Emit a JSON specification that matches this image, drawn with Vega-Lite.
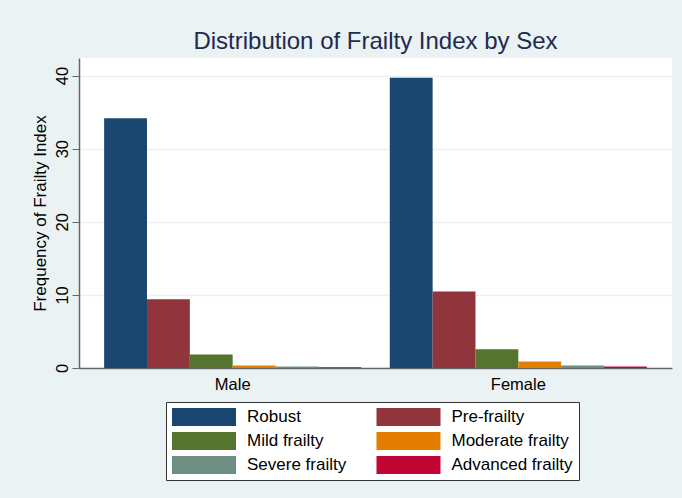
{
  "$schema": "https://vega.github.io/schema/vega-lite/v6.json",
  "autosize": {"type": "none"},
  "width": 593,
  "height": 310,
  "padding": {"left": 79, "top": 58, "right": 10, "bottom": 130},
  "background": "#EAF2F3",
  "config": {
    "font": "Liberation Sans",
    "view": {"fill": "white", "stroke": null}
  },
  "title": {
    "text": "Distribution of Frailty Index by Sex",
    "fontSize": 24,
    "fontWeight": "normal",
    "color": "#1F2A51",
    "anchor": "middle",
    "offset": 4
  },
  "data": {
    "values": [
      {"sex": "Male", "category": "Robust", "freq": 34.15},
      {"sex": "Male", "category": "Pre-frailty", "freq": 9.4},
      {"sex": "Male", "category": "Mild frailty", "freq": 1.85},
      {"sex": "Male", "category": "Moderate frailty", "freq": 0.35},
      {"sex": "Male", "category": "Severe frailty", "freq": 0.2},
      {"sex": "Male", "category": "Advanced frailty", "freq": 0.1},
      {"sex": "Female", "category": "Robust", "freq": 39.7},
      {"sex": "Female", "category": "Pre-frailty", "freq": 10.45},
      {"sex": "Female", "category": "Mild frailty", "freq": 2.55},
      {"sex": "Female", "category": "Moderate frailty", "freq": 0.9},
      {"sex": "Female", "category": "Severe frailty", "freq": 0.35},
      {"sex": "Female", "category": "Advanced frailty", "freq": 0.2}
    ]
  },
  "mark": {"type": "bar"},
  "encoding": {
    "x": {
      "field": "sex",
      "type": "nominal",
      "sort": ["Male", "Female"],
      "scale": {"paddingInner": 0.1, "paddingOuter": 0.088},
      "axis": {
        "title": null,
        "labelAngle": 0,
        "labelFontSize": 16.5,
        "labelColor": "#000000",
        "labelPadding": 8,
        "ticks": false,
        "domainColor": "#666666",
        "domainWidth": 1.5
      }
    },
    "xOffset": {
      "field": "category",
      "type": "nominal",
      "sort": ["Robust", "Pre-frailty", "Mild frailty", "Moderate frailty", "Severe frailty", "Advanced frailty"],
      "scale": {"paddingInner": 0, "paddingOuter": 0}
    },
    "y": {
      "field": "freq",
      "type": "quantitative",
      "scale": {"domain": [0, 42.4], "nice": false, "zero": true},
      "axis": {
        "title": "Frequency of Frailty Index",
        "titleFontSize": 17,
        "titleFontWeight": "normal",
        "titleColor": "#000000",
        "titlePadding": 5,
        "values": [0, 10, 20, 30, 40],
        "labelAngle": -90,
        "labelAlign": "center",
        "labelBaseline": "bottom",
        "labelFontSize": 16.5,
        "labelColor": "#000000",
        "labelPadding": 2,
        "tickSize": 7,
        "tickColor": "#666666",
        "domainColor": "#666666",
        "domainWidth": 1.5,
        "gridColor": "#EAF2F3",
        "gridWidth": 1.5
      }
    },
    "color": {
      "field": "category",
      "type": "nominal",
      "sort": ["Robust", "Pre-frailty", "Mild frailty", "Moderate frailty", "Severe frailty", "Advanced frailty"],
      "scale": {
        "domain": ["Robust", "Pre-frailty", "Mild frailty", "Moderate frailty", "Severe frailty", "Advanced frailty"],
        "range": ["#1A476F", "#90353B", "#55752F", "#E37E00", "#6E8E84", "#C10534"]
      },
      "legend": {
        "title": null,
        "orient": "none",
        "legendX": 87,
        "legendY": 344,
        "columns": 2,
        "direction": "horizontal",
        "columnPadding": 29.5,
        "rowPadding": 6,
        "padding": 6,
        "fillColor": "white",
        "strokeColor": "#333333",
        "symbolType": "M-1,-1H1V-0.4375H-1Z",
        "symbolSize": 4096,
        "symbolStrokeWidth": 0,
        "symbolOpacity": 1,
        "labelFontSize": 17,
        "labelColor": "#000000",
        "labelOffset": 11,
        "labelLimit": 300,
        "encode": {
          "labels": {"update": {"dy": {"value": -23}}}
        }
      }
    }
  }
}
